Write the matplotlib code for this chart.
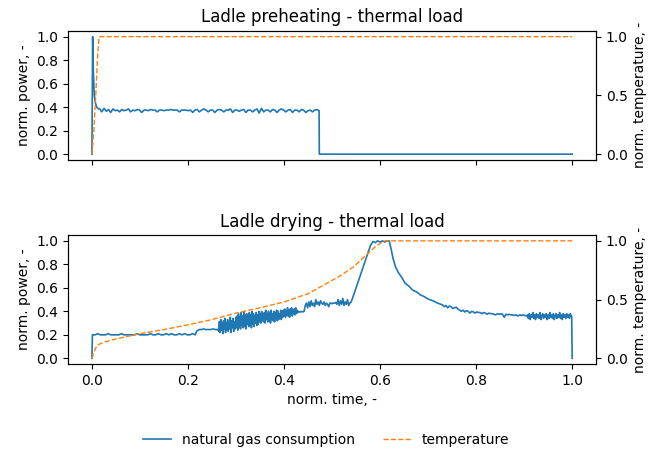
import numpy as np
import matplotlib
matplotlib.use("Agg")
import matplotlib.pyplot as plt

# --- ladle preheating ---
pre_start_t = [0.0, 0.0015, 0.003, 0.005, 0.007, 0.010, 0.014]
pre_start_p = [0.0, 1.0, 0.70, 0.50, 0.44, 0.40, 0.385]
pre_plateau = [
    0.385, 0.36, 0.39, 0.365, 0.38, 0.355, 0.385, 0.37, 0.375, 0.36,
    0.38, 0.37, 0.375, 0.385, 0.36, 0.375, 0.37, 0.38, 0.375, 0.355,
    0.375, 0.375, 0.37, 0.38, 0.375, 0.375, 0.36, 0.375, 0.375, 0.37,
    0.375, 0.375, 0.38, 0.375, 0.375, 0.375, 0.36, 0.375, 0.375, 0.375,
    0.37, 0.375, 0.355, 0.375, 0.38, 0.36, 0.375, 0.385, 0.375, 0.36,
    0.375, 0.375, 0.355, 0.375, 0.38, 0.375, 0.36, 0.375, 0.375, 0.385,
    0.355, 0.375, 0.375, 0.365, 0.375, 0.38, 0.355, 0.375, 0.375, 0.36,
    0.375, 0.385, 0.35, 0.39, 0.36, 0.375, 0.375, 0.36, 0.38, 0.375,
    0.355, 0.375, 0.385, 0.375, 0.36, 0.375, 0.38, 0.355, 0.375, 0.375,
    0.36, 0.38, 0.375, 0.355, 0.37, 0.375, 0.36, 0.375, 0.38, 0.37,
]
pre_end_t = [0.4735, 1.0]
pre_end_p = [0.0, 0.0]

pre_temp_t = [0.0, 0.004, 0.008, 0.012, 0.015, 1.0]
pre_temp = [0.0, 0.2, 0.5, 0.85, 1.0, 1.0]

# --- ladle drying ---
dry_a = [0.2, 0.2, 0.21, 0.2, 0.2, 0.2, 0.21, 0.2, 0.2, 0.2,
         0.2, 0.21, 0.2, 0.2, 0.2, 0.2, 0.2, 0.21, 0.2, 0.2,
         0.2, 0.2, 0.21, 0.2, 0.2, 0.21, 0.2, 0.2, 0.21, 0.2,
         0.21, 0.2, 0.2, 0.21, 0.2, 0.21, 0.2, 0.2, 0.21, 0.2]
dry_b = [0.23, 0.245, 0.245, 0.25, 0.245, 0.245, 0.245, 0.25, 0.245, 0.245]
dry_c = [0.23, 0.31, 0.22, 0.33, 0.24, 0.30, 0.21, 0.32, 0.25, 0.34,
         0.22, 0.30, 0.24, 0.33, 0.23, 0.31, 0.25, 0.35, 0.22, 0.32,
         0.26, 0.34, 0.23, 0.31, 0.25, 0.35,
         0.26, 0.36, 0.24, 0.38, 0.27, 0.35, 0.25, 0.39, 0.28, 0.36,
         0.26, 0.40, 0.27, 0.37, 0.25, 0.38, 0.29, 0.36, 0.27, 0.39,
         0.28, 0.37, 0.26, 0.40, 0.29, 0.38, 0.27, 0.36, 0.30, 0.39,
         0.28, 0.37, 0.29, 0.40,
         0.31, 0.38, 0.30, 0.40, 0.32, 0.37, 0.31, 0.39, 0.30, 0.41,
         0.33, 0.38, 0.31, 0.40, 0.32, 0.39, 0.30, 0.41, 0.33, 0.38,
         0.32, 0.40, 0.31, 0.39, 0.34, 0.41, 0.32, 0.40, 0.33, 0.38,
         0.34, 0.41, 0.33, 0.40,
         0.35, 0.41, 0.36, 0.42, 0.35, 0.40, 0.37, 0.43, 0.36, 0.41,
         0.35, 0.42, 0.37, 0.43, 0.36, 0.41, 0.38, 0.42, 0.37, 0.43,
         0.38, 0.41, 0.39, 0.40]
dry_d = [0.395, 0.395, 0.40, 0.395, 0.40, 0.45, 0.47, 0.43, 0.48, 0.44,
         0.49, 0.45, 0.47, 0.44, 0.50, 0.46, 0.48, 0.45, 0.49, 0.47,
         0.46, 0.48, 0.45, 0.47, 0.46, 0.44, 0.47, 0.47, 0.465, 0.47,
         0.47, 0.475, 0.46, 0.50, 0.45, 0.49, 0.46, 0.51, 0.45, 0.48,
         0.46, 0.50, 0.45, 0.47]
peak_t = [0.54, 0.55, 0.56, 0.57, 0.58, 0.585, 0.59, 0.595, 0.60, 0.605,
          0.61, 0.615, 0.619, 0.623, 0.627, 0.632, 0.638, 0.645, 0.652,
          0.660, 0.668, 0.676, 0.684, 0.692, 0.700, 0.710, 0.720]
peak_p = [0.48, 0.60, 0.72, 0.84, 0.96, 0.995, 0.985, 1.0, 0.99, 1.0,
          0.99, 1.0, 1.0, 0.93, 0.85, 0.78, 0.73, 0.69, 0.64,
          0.615, 0.58, 0.565, 0.54, 0.525, 0.505, 0.49, 0.47]
dry_g = [0.455, 0.44, 0.45, 0.43, 0.445, 0.44, 0.425, 0.43, 0.435, 0.42,
         0.41, 0.40, 0.41, 0.395, 0.405, 0.40, 0.385, 0.40, 0.395, 0.385,
         0.395, 0.39, 0.39, 0.38, 0.39, 0.385, 0.375, 0.385, 0.38, 0.38,
         0.375, 0.37, 0.38, 0.375, 0.38, 0.375, 0.35, 0.375, 0.37, 0.375,
         0.37, 0.37, 0.365, 0.37, 0.36, 0.37, 0.365, 0.37, 0.365, 0.36]
dry_h = [0.37, 0.34, 0.38, 0.33, 0.37, 0.35, 0.39, 0.34, 0.37, 0.33,
         0.38, 0.35, 0.37, 0.34, 0.39, 0.33, 0.36, 0.38, 0.34, 0.37,
         0.35, 0.38, 0.33, 0.37, 0.34, 0.39, 0.35, 0.37, 0.34, 0.38,
         0.33, 0.36, 0.38, 0.34, 0.37, 0.35, 0.39, 0.34, 0.37, 0.33,
         0.38, 0.35, 0.37, 0.34, 0.38, 0.35, 0.37, 0.34, 0.38, 0.36]

dry_temp_t = [0.0, 0.004, 0.008, 0.013, 0.02, 0.027, 0.05, 0.1, 0.15, 0.2,
              0.25, 0.3, 0.35, 0.4, 0.45, 0.49, 0.52, 0.545, 0.57, 0.59,
              0.605, 0.61, 1.0]
dry_temp = [0.0, 0.05, 0.09, 0.115, 0.13, 0.14, 0.165, 0.21, 0.245, 0.285,
            0.33, 0.385, 0.43, 0.48, 0.55, 0.64, 0.71, 0.78, 0.875, 0.95,
            0.99, 1.0, 1.0]

# assemble series
pre_t = np.concatenate([pre_start_t, np.linspace(0.016, 0.473, len(pre_plateau)), pre_end_t])
pre_p = np.concatenate([pre_start_p, pre_plateau, pre_end_p])

dry_t = np.concatenate([[0.0], np.linspace(0.001, 0.215, len(dry_a)),
                        np.linspace(0.218, 0.262, len(dry_b)),
                        np.linspace(0.264, 0.43, len(dry_c)),
                        np.linspace(0.432, 0.537, len(dry_d)),
                        peak_t,
                        np.linspace(0.73, 0.905, len(dry_g)),
                        np.linspace(0.907, 0.998, len(dry_h)),
                        [0.999, 1.0]])
dry_p = np.concatenate([[0.0], dry_a, dry_b, dry_c, dry_d, peak_p, dry_g, dry_h, [0.36, 0.0]])

fig, (ax1, ax2) = plt.subplots(2, 1, sharex=True, figsize=(6.53, 4.53), dpi=100)
fig.subplots_adjust(left=0.104, right=0.913, top=0.932, bottom=0.196, hspace=0.58)

l1, = ax1.plot(pre_t, pre_p, color="C0", lw=1.2, label="natural gas consumption")
ax1b = ax1.twinx()
l2, = ax1b.plot(pre_temp_t, pre_temp, "--", color="C1", lw=1.0, label="temperature")
ax1.set_title("Ladle preheating - thermal load")
ax1.set_ylabel("norm. power, -")
ax1b.set_ylabel("norm. temperature, -")

ax2.plot(dry_t, dry_p, color="C0", lw=1.2)
ax2b = ax2.twinx()
ax2b.plot(dry_temp_t, dry_temp, "--", color="C1", lw=1.0)
ax2.set_title("Ladle drying - thermal load")
ax2.set_ylabel("norm. power, -")
ax2b.set_ylabel("norm. temperature, -")
ax2.set_xlabel("norm. time, -")

for a in (ax1, ax2):
    a.set_yticks([0.0, 0.2, 0.4, 0.6, 0.8, 1.0])
for a in (ax1b, ax2b):
    a.set_yticks([0.0, 0.5, 1.0])

fig.legend([l1, l2], ["natural gas consumption", "temperature"],
           loc="lower center", bbox_to_anchor=(0.5, -0.015), ncol=2, frameon=False)

fig.savefig("out.png", dpi=100)
